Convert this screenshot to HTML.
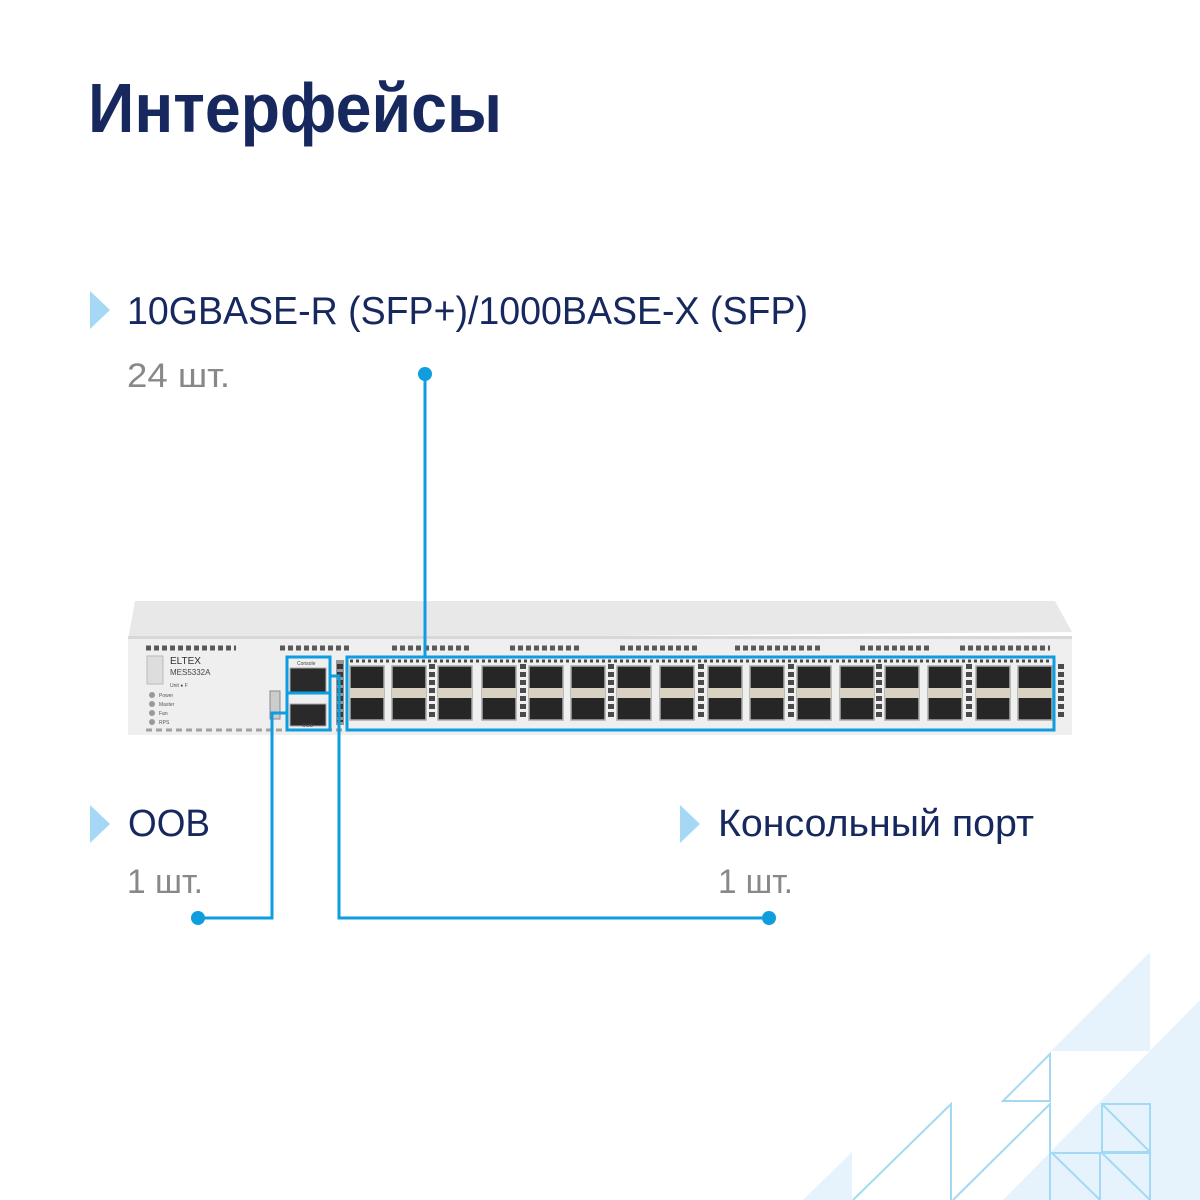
<!DOCTYPE html>
<html><head><meta charset="utf-8"><style>
html,body{margin:0;padding:0;background:#fff;}
svg{display:block;}
</style></head><body>
<svg width="1200" height="1200" viewBox="0 0 1200 1200" xmlns="http://www.w3.org/2000/svg" font-family="Liberation Sans, DejaVu Sans, sans-serif">
<rect width="1200" height="1200" fill="#fff"/>
<polygon points="1150,952 1150,1051 1051,1051" fill="#e6f3fd"/>
<polygon points="1200,1000 1200,1200 1003,1200" fill="#e6f3fd"/>
<polygon points="852,1152 852,1200 803,1200" fill="#e6f3fd"/>
<g fill="none" stroke="#a3d9f3" stroke-width="2">
<polygon points="1003,1101 1050,1054 1050,1101"/>
<polyline points="853,1200 951,1104 951,1200"/>
<polyline points="953,1200 1050,1104 1050,1200"/>
<rect x="1102" y="1104" width="48" height="48"/><line x1="1102" y1="1104" x2="1150" y2="1152"/>
<rect x="1050" y="1153" width="50" height="50"/><line x1="1052" y1="1153" x2="1100" y2="1200"/>
<rect x="1100" y="1153" width="50" height="50"/><line x1="1102" y1="1153" x2="1150" y2="1200"/>
</g>
<text x="88" y="132" font-size="70" font-weight="bold" fill="#16285e" textLength="414" lengthAdjust="spacingAndGlyphs">Интерфейсы</text>
<polygon points="90,291 110,310 90,329" fill="#a5d8f5"/>
<text x="127" y="324" font-size="39" fill="#16285e" textLength="681" lengthAdjust="spacingAndGlyphs">10GBASE-R (SFP+)/1000BASE-X (SFP)</text>
<text x="127" y="387" font-size="34" fill="#888" textLength="103" lengthAdjust="spacingAndGlyphs">24 шт.</text>
<polygon points="90,805 110,824 90,843" fill="#a5d8f5"/>
<text x="128" y="836" font-size="38" fill="#16285e" textLength="82" lengthAdjust="spacingAndGlyphs">OOB</text>
<text x="127" y="893" font-size="34" fill="#888" textLength="76" lengthAdjust="spacingAndGlyphs">1 шт.</text>
<polygon points="680,805 700,824 680,843" fill="#a5d8f5"/>
<text x="718" y="836" font-size="38" fill="#16285e" textLength="316" lengthAdjust="spacingAndGlyphs">Консольный порт</text>
<text x="718" y="893" font-size="34" fill="#888" textLength="75" lengthAdjust="spacingAndGlyphs">1 шт.</text>
<polygon points="135,601 1055,601 1072,632 128,640" fill="#e8e8e8"/>
<rect x="128" y="638" width="944" height="97" fill="#efefef"/>
<rect x="128" y="636" width="944" height="3" fill="#d8d8d8"/>
<g stroke="#333" stroke-width="5" stroke-dasharray="5,3" opacity="0.8">
<line x1="146" y1="648" x2="236" y2="648"/>
<line x1="280" y1="648" x2="350" y2="648"/>
<line x1="392" y1="648" x2="470" y2="648"/>
<line x1="510" y1="648" x2="580" y2="648"/>
<line x1="620" y1="648" x2="700" y2="648"/>
<line x1="735" y1="648" x2="820" y2="648"/>
<line x1="860" y1="648" x2="930" y2="648"/>
<line x1="960" y1="648" x2="1050" y2="648"/>
</g>
<g stroke="#555" stroke-width="3" stroke-dasharray="6,4" opacity="0.5">
<line x1="146" y1="730" x2="1052" y2="730"/>
</g>
<rect x="147" y="656" width="16" height="28" fill="#ddd" stroke="#bbb"/>
<text x="170" y="664" font-size="10" fill="#333">ELTEX</text>
<text x="170" y="675" font-size="8" fill="#444">MES5332A</text>
<text x="170" y="687" font-size="5" fill="#555">Unit   ● F</text>
<g fill="#999"><circle cx="152" cy="695" r="3"/><circle cx="152" cy="704" r="3"/><circle cx="152" cy="713" r="3"/><circle cx="152" cy="722" r="3"/></g>
<g font-size="5" fill="#555"><text x="159" y="697">Power</text><text x="159" y="706">Master</text><text x="159" y="715">Fan</text><text x="159" y="724">RPS</text></g>
<rect x="270" y="691" width="10" height="28" fill="#ccc" stroke="#888"/>
<rect x="290" y="668" width="36" height="24" fill="#2a2a2a" stroke="#aaa"/>
<rect x="290" y="704" width="36" height="22" fill="#2a2a2a" stroke="#aaa"/>
<text x="297" y="665" font-size="5" fill="#444">Console</text>
<text x="302" y="727" font-size="5" fill="#444">OOB</text>
<rect x="336" y="660" width="8" height="65" fill="#111" opacity="0.4"/>
<g fill="#262626" stroke="#aaa" stroke-width="1.5">
<rect x="350" y="666" width="34" height="54"/><rect x="392" y="666" width="34" height="54"/><rect x="438" y="666" width="34" height="54"/><rect x="482" y="666" width="34" height="54"/>
<rect x="529" y="666" width="34" height="54"/><rect x="571" y="666" width="34" height="54"/><rect x="617" y="666" width="34" height="54"/><rect x="660" y="666" width="34" height="54"/>
<rect x="708" y="666" width="34" height="54"/><rect x="750" y="666" width="34" height="54"/><rect x="797" y="666" width="34" height="54"/><rect x="840" y="666" width="34" height="54"/>
<rect x="885" y="666" width="34" height="54"/><rect x="928" y="666" width="34" height="54"/><rect x="976" y="666" width="34" height="54"/><rect x="1018" y="666" width="34" height="54"/>
</g>
<g fill="#d9d2c2">
<rect x="350" y="688" width="34" height="10"/><rect x="392" y="688" width="34" height="10"/><rect x="438" y="688" width="34" height="10"/><rect x="482" y="688" width="34" height="10"/>
<rect x="529" y="688" width="34" height="10"/><rect x="571" y="688" width="34" height="10"/><rect x="617" y="688" width="34" height="10"/><rect x="660" y="688" width="34" height="10"/>
<rect x="708" y="688" width="34" height="10"/><rect x="750" y="688" width="34" height="10"/><rect x="797" y="688" width="34" height="10"/><rect x="840" y="688" width="34" height="10"/>
<rect x="885" y="688" width="34" height="10"/><rect x="928" y="688" width="34" height="10"/><rect x="976" y="688" width="34" height="10"/><rect x="1018" y="688" width="34" height="10"/>
</g>
<g stroke="#222" stroke-width="6" stroke-dasharray="5,3" opacity="0.8">
<line x1="432" y1="664" x2="432" y2="720"/><line x1="523" y1="664" x2="523" y2="720"/><line x1="611" y1="664" x2="611" y2="720"/><line x1="701" y1="664" x2="701" y2="720"/>
<line x1="791" y1="664" x2="791" y2="720"/><line x1="879" y1="664" x2="879" y2="720"/><line x1="969" y1="664" x2="969" y2="720"/><line x1="1061" y1="664" x2="1061" y2="720"/>
<line x1="340" y1="664" x2="340" y2="722"/>
</g>
<g stroke="#222" stroke-width="3" stroke-dasharray="3,3" opacity="0.8">
<line x1="350" y1="661" x2="1050" y2="661"/>
</g>
<g fill="none" stroke="#0e9ee0" stroke-width="3">
<rect x="347" y="657" width="707" height="73"/>
<rect x="287" y="657" width="43" height="36"/>
<rect x="287" y="693" width="43" height="37"/>
<line x1="425" y1="374" x2="425" y2="657"/>
<polyline points="198,918 272,918 272,713 287,713"/>
<polyline points="330,676 339,676 339,918 769,918"/>
</g>
<g fill="#0e9ee0">
<circle cx="425" cy="374" r="7"/><circle cx="198" cy="918" r="7"/><circle cx="769" cy="918" r="7"/>
</g>
</svg>
</body></html>
